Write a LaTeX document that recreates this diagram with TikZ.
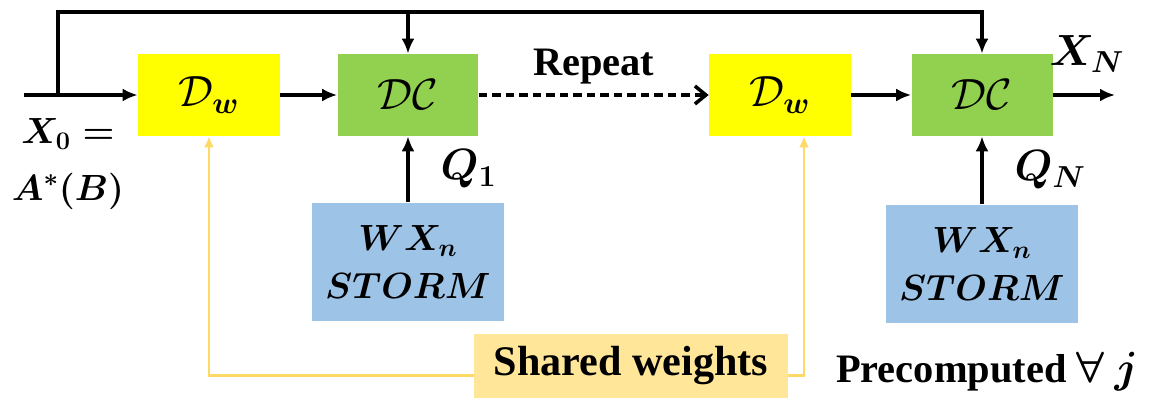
\documentclass[tikz,border=0pt]{standalone}
\usepackage{amsmath,amssymb}
\usepackage{fontspec}
\setmainfont{Liberation Serif}
\usepackage{xcolor}
\definecolor{dwyellow}{RGB}{255,255,0}
\definecolor{dcgreen}{RGB}{146,208,80}
\definecolor{stormblue}{RGB}{157,195,230}
\definecolor{sharedtan}{RGB}{255,230,153}
\definecolor{shareline}{RGB}{255,217,102}
\usepackage{tikz}
\usetikzlibrary{arrows.meta,positioning,calc}

\begin{document}
\begin{tikzpicture}[
    x=0.02cm, y=-0.02cm,
    font=\fontsize{23}{27}\selectfont\bfseries\boldmath,
    dwbox/.style={rectangle, minimum width=2.84cm, minimum height=1.64cm, fill=dwyellow, font=\fontsize{26}{30}\selectfont\unboldmath},
    dcbox/.style={rectangle, minimum width=2.82cm, minimum height=1.64cm, fill=dcgreen, font=\fontsize{27}{30}\selectfont\unboldmath},
    stormbox/.style={rectangle, minimum width=3.86cm, minimum height=2.38cm, align=center, fill=stormblue, font=\fontsize{21}{27}\selectfont\bfseries\boldmath},
    sharedbox/.style={rectangle, minimum width=6.28cm, minimum height=1.3cm, fill=sharedtan, font=\fontsize{24}{28}\selectfont\bfseries},
    arrow/.style={-{Latex[length=0.3cm,width=0.26cm]}, line width=2pt},
    dasharrow/.style={-{Straight Barb[length=0.22cm,width=0.36cm]}, dash pattern=on 0.17cm off 0.1cm, line width=2pt},
    yarrow/.style={-{Latex[length=0.22cm,width=0.2cm]}, draw=shareline, line width=1.6pt},
]
\useasboundingbox (0,0) rectangle (1162,401);

% Unrolled stages
\node[dwbox] (dw1) at (209,95) {$\mathcal{D}_{\boldsymbol{w}}$};
\node[dcbox] (dc1) at (408,95) {$\mathcal{DC}$};
\node[dwbox] (dw2) at (780,95) {$\mathcal{D}_{\boldsymbol{w}}$};
\node[dcbox] (dc2) at (982,95) {$\mathcal{DC}$};

% Precomputed operators
\node[stormbox] (storm1) at (408,262) {$WX_n$\\$STORM$};
\node[stormbox] (storm2) at (982,264) {$WX_n$\\$STORM$};
\node[sharedbox] (shared) at (631,366) {Shared weights};
\node (precomp) at (987,372) {Precomputed $\forall\ j$};

% Input and output
\node[align=center, font=\fontsize{22}{24}\selectfont\bfseries\boldmath] (x0) at (68,164) {$X_0 =$\\[8pt]$A^*(B)$};
\coordinate (in) at (24,95);
\coordinate (tap) at (58,95);
\coordinate (top) at (58,12);
\coordinate (out) at (1115,95);
\node (xn) at (1087,54) {$X_N$};

% Arrows
\draw[arrow] (in) -- (dw1);
\draw[arrow] (dw1) -- (dc1);
\draw[dasharrow] (dc1) -- (dw2) node[midway, above=2pt] {Repeat};
\draw[arrow] (dw2) -- (dc2);
\draw[arrow] (dc2) -- (out);
\draw[arrow] (tap) -- (top) -| (dc2.north);
\draw[arrow] (top -| dc1.north) -- (dc1.north);
\draw[arrow] (storm1) -- (dc1) node[midway, right=0.5cm] {$Q_1$};
\draw[arrow] (storm2) -- (dc2) node[midway, right=0.5cm] {$Q_N$};

% Weight sharing
\draw[yarrow] ([yshift=-0.19cm]shared.west) -| (dw1.south);
\draw[yarrow] ([yshift=-0.19cm]shared.east) -| ([xshift=0.48cm]dw2.south);

\end{tikzpicture}
\end{document}
